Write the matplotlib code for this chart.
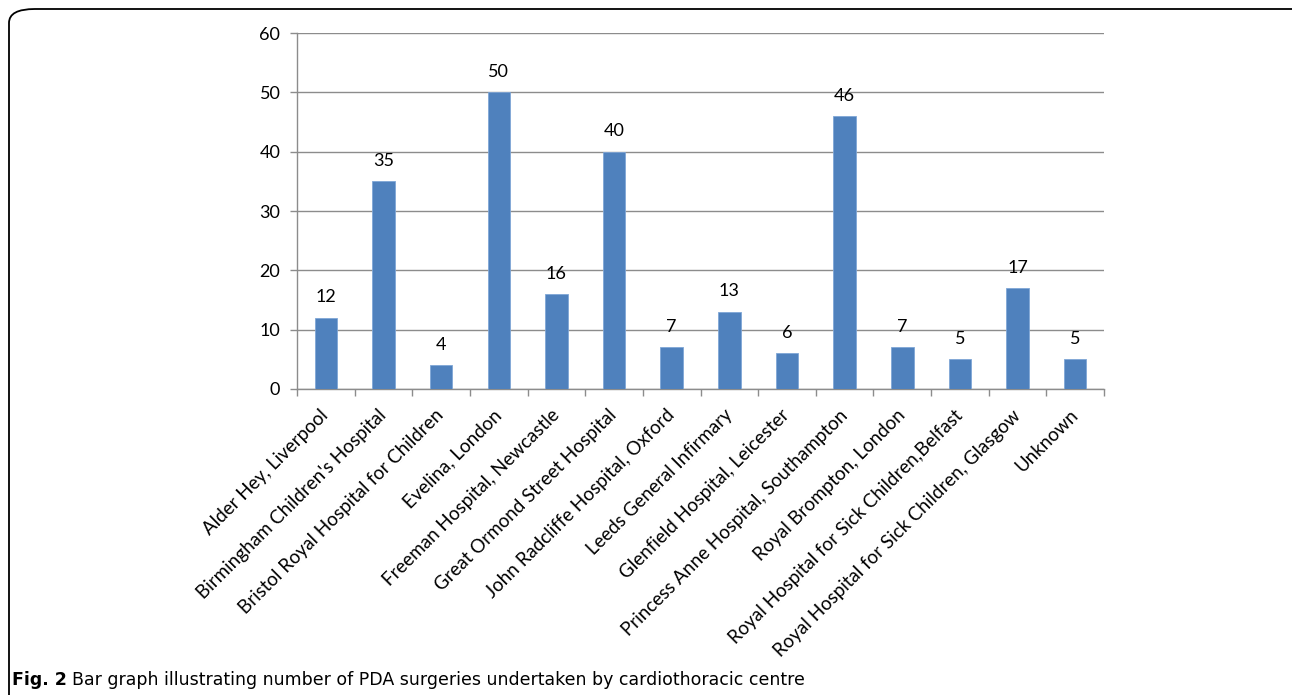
import matplotlib.pyplot as plt
from matplotlib.patches import FancyBboxPatch
import numpy as np

centres = [
    "Alder Hey, Liverpool",
    "Birmingham Children's Hospital",
    "Bristol Royal Hospital for Children",
    "Evelina, London",
    "Freeman Hospital, Newcastle",
    "Great Ormond Street Hospital",
    "John Radcliffe Hospital, Oxford",
    "Leeds General Infirmary",
    "Glenfield Hospital, Leicester",
    "Princess Anne Hospital, Southampton",
    "Royal Brompton, London",
    "Royal Hospital for Sick Children,Belfast",
    "Royal Hospital for Sick Children, Glasgow",
    "Unknown",
]
surgeries = [12, 35, 4, 50, 16, 40, 7, 13, 6, 46, 7, 5, 17, 5]
y_ticks = [0, 10, 20, 30, 40, 50, 60]


def do_plot():
    plt.rcParams['font.family'] = ['Lato', 'DejaVu Sans']
    f = plt.figure(figsize=(12.92, 6.95), dpi=100)
    ax = f.add_axes([0.2299, 0.4403, 0.6246, 0.5122])

    x = np.arange(len(centres))
    bars = ax.bar(x, surgeries, width=0.39, color='#4f81bd', edgecolor='#7fa6d6',
                  linewidth=0.6, zorder=3)
    for b, v in zip(bars, surgeries):
        ax.annotate(str(v), (b.get_x() + b.get_width() / 2, v), xytext=(0, 9),
                    textcoords='offset points', ha='center', va='bottom', fontsize=13)

    ax.set_xlim(-0.5, len(centres) - 0.5)
    ax.set_ylim(0, 60)
    ax.set_yticks(y_ticks)
    ax.set_xticks(x)
    ax.set_xticklabels(centres, rotation=45, ha='right', va='center',
                       rotation_mode='anchor', fontsize=13.5)
    ax.set_xticks(np.arange(-0.5, len(centres)), minor=True)
    ax.tick_params(axis='x', which='major', length=0, pad=17)
    ax.tick_params(axis='x', which='minor', length=5, color='#8c8c8c', width=1)
    ax.tick_params(axis='y', length=5, color='#8c8c8c', width=1, labelsize=13, pad=7)
    ax.grid(axis='y', color='#8c8c8c', linewidth=1, zorder=0)
    for s in ['top', 'right']:
        ax.spines[s].set_visible(False)
    for s in ['left', 'bottom']:
        ax.spines[s].set_color('#8c8c8c')
        ax.spines[s].set_linewidth(1)

    # rounded frame around the figure, cut off at right and bottom
    frame = FancyBboxPatch((9 / 1292, -0.1), 1.2, 0.1 + 1 - 9 / 695,
                           boxstyle='round,pad=0,rounding_size=0.02',
                           transform=f.transFigure, fill=False, edgecolor='black',
                           linewidth=1.3, clip_on=False)
    f.patches.append(frame)

    # caption: bold "Fig. 2" followed by regular text
    cy = 1 - 680 / 695
    t1 = f.text(12 / 1292, cy, 'Fig. 2', fontsize=12.5, fontweight='bold',
                family='DejaVu Sans', va='center')
    f.canvas.draw()
    r = f.canvas.get_renderer()
    x_end = f.transFigure.inverted().transform(
        (t1.get_window_extent(r).x1 + 5, 0))[0]
    f.text(x_end, cy,
           'Bar graph illustrating number of PDA surgeries undertaken by cardiothoracic centre',
           fontsize=12.5, family='DejaVu Sans', va='center')

    plt.savefig('out.png', dpi=100)


if __name__ == '__main__':
    do_plot()
